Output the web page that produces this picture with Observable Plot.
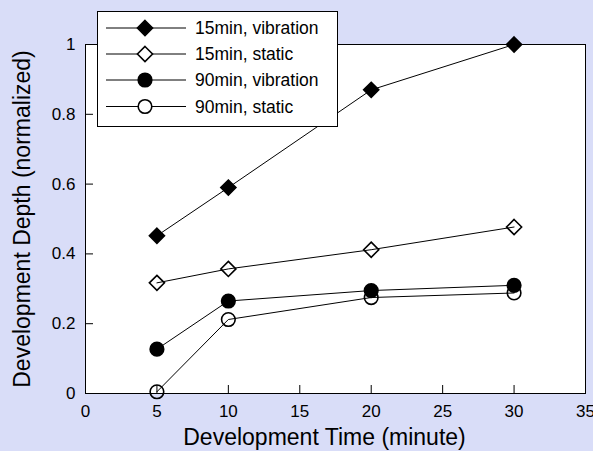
<!DOCTYPE html>
<html><head><meta charset="utf-8">
<script src="https://cdn.jsdelivr.net/npm/d3@7"></script>
<script src="https://cdn.jsdelivr.net/npm/@observablehq/plot@0.6"></script>
<style>
html,body{margin:0;padding:0;background:#d9ddf8;}
#chart svg{display:block;}
</style></head><body><div id="chart"></div>
<script>
const times = [5, 10, 20, 30];
const seriesNames = ["15min, vibration", "15min, static", "90min, vibration", "90min, static"];
const vib15 = [0.452, 0.590, 0.870, 1.000];
const sta15 = [0.317, 0.357, 0.412, 0.477];
const vib90 = [0.127, 0.265, 0.295, 0.310];
const sta90 = [0.005, 0.212, 0.275, 0.288];
const seriesValues = [vib15, sta15, vib90, sta90];
const symbols = ["diamond2", "diamond2", "circle", "circle"];
const filled = [true, false, true, false];
const xTicks = [0, 5, 10, 15, 20, 25, 30, 35];
const yTicks = [0, 0.2, 0.4, 0.6, 0.8, 1];
const xTitle = "Development Time (minute)";
const yTitle = "Development Depth (normalized)";

const rows = [];
seriesValues.forEach((vals, i) => vals.forEach((v, j) => rows.push({series: seriesNames[i], idx: i, t: times[j], v})));

const font = "'Liberation Sans', Arial, sans-serif";
const plot = Plot.plot({
  width: 593, height: 451,
  marginLeft: 85, marginRight: 8, marginTop: 44, marginBottom: 58,
  style: {background: "transparent", fontFamily: font, fontSize: "17px", color: "black"},
  x: {domain: [0, 35], ticks: xTicks, label: null},
  y: {domain: [0, 1], ticks: yTicks, label: null},
  marks: [
    Plot.frame({fill: "white", stroke: null}),
    Plot.axisX({ticks: xTicks, tickSize: 0, tickPadding: 11, fontSize: 17, tickFormat: d => String(d)}),
    Plot.axisY({ticks: yTicks, tickSize: 0, tickPadding: 10, fontSize: 17, tickFormat: d => String(d)}),
    Plot.ruleX(xTicks, {x: d => d, y1: 0, y2: 0, insetTop: -8, stroke: "black"}),
    Plot.ruleY(yTicks, {y: d => d, x1: 0, x2: 0, insetRight: -8, stroke: "black"}),
    Plot.line(rows, {x: "t", y: "v", z: "series", stroke: "black", strokeWidth: 1}),
    Plot.dot(rows, {x: "t", y: "v", symbol: d => symbols[d.idx], r: 6.8,
      fill: d => filled[d.idx] ? "black" : "none", stroke: "black", strokeWidth: 1.6}),
    Plot.frame({stroke: "black", strokeWidth: 1}),
    Plot.text([xTitle], {frameAnchor: "bottom", lineAnchor: "middle", textAnchor: "middle", dy: 44, dx: -11, fontSize: 23, fill: "black"}),
    Plot.text([yTitle], {frameAnchor: "left", lineAnchor: "middle", textAnchor: "middle", dx: -63, rotate: -90, fontSize: 23, fill: "black"})
  ]
});
document.getElementById("chart").appendChild(plot);

// Legend drawn into the plot's SVG
const svg = d3.select(plot);
const lg = svg.append("g").attr("font-family", font).attr("font-size", 17.5).attr("text-anchor", "start");
lg.append("rect").attr("x", 97.5).attr("y", 11.5).attr("width", 240).attr("height", 115)
  .attr("fill", "white").attr("stroke", "black");
const rowY = [28, 54, 80, 106.5];
seriesNames.forEach((name, i) => {
  const y = rowY[i];
  lg.append("line").attr("x1", 106).attr("x2", 186).attr("y1", y).attr("y2", y).attr("stroke", "black");
  const sym = d3.symbol(symbols[i] === "circle" ? d3.symbolCircle : d3.symbolDiamond2, Math.PI * 6.8 * 6.8);
  lg.append("path").attr("d", sym()).attr("transform", `translate(145,${y})`)
    .attr("fill", filled[i] ? "black" : "white").attr("stroke", "black").attr("stroke-width", 1.6);
  lg.append("text").attr("x", 195).attr("y", y).attr("dy", "0.35em").attr("text-anchor", "start").text(name);
});
</script></body></html>
